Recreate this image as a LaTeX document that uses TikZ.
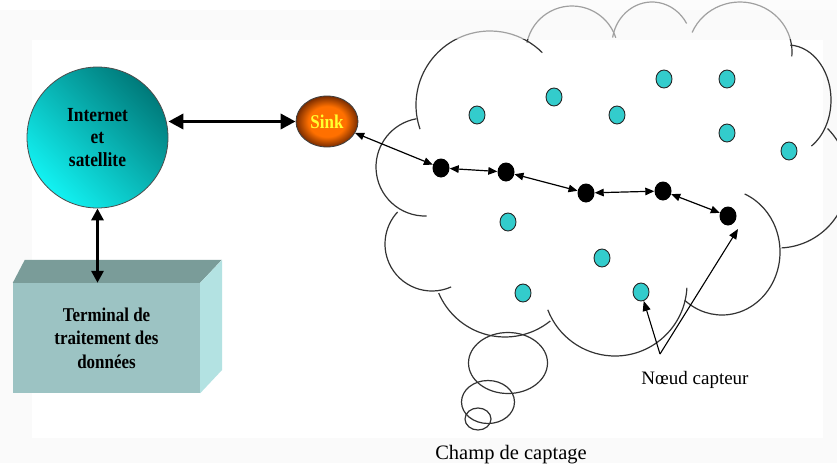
\documentclass[tikz,border=0pt]{standalone}
\usepackage{fontspec}
\setmainfont{Liberation Serif}
\newfontfamily\labelfont[FakeStretch=0.87]{Liberation Serif}
\usetikzlibrary{arrows.meta,shapes.geometric}
\definecolor{netdark}{HTML}{007A7A}
\definecolor{netlight}{HTML}{12F2F2}
\definecolor{sinklight}{HTML}{FF7000}
\definecolor{sinkdark}{HTML}{7A2C00}
\definecolor{sinktext}{HTML}{FFFF30}
\definecolor{nodecyan}{HTML}{33CCCC}
\definecolor{termfront}{HTML}{9CC3C3}
\definecolor{termtop}{HTML}{7A9C99}
\definecolor{termside}{HTML}{B3E2E2}
\pgfdeclareradialshading{sinkglow}{\pgfpoint{0bp}{0bp}}{color(0bp)=(sinklight); color(15bp)=(sinklight); color(25bp)=(sinkdark); color(50bp)=(sinkdark)}
\tikzset{
  netball/.style={circle, draw=black!70, line width=0.8pt, minimum size=141pt, inner sep=0pt,
    top color=netdark, bottom color=netlight, shading angle=-45,
    align=center, font=\labelfont\bfseries\fontsize{20}{22.5}\selectfont},
  sinkball/.style={ellipse, draw=black!75, line width=0.8pt, minimum width=62pt, minimum height=51pt,
    inner sep=0pt, shading=sinkglow, text=sinktext,
    font=\labelfont\bfseries\fontsize{19.5}{20}\selectfont},
  termface/.style={rectangle, fill=termfront, minimum width=187pt, minimum height=110pt, inner sep=0pt,
    align=center, font=\labelfont\bfseries\fontsize{19.5}{23.5}\selectfont},
  sensor/.style={ellipse, fill=nodecyan, draw=black!85, line width=0.9pt,
    minimum width=16pt, minimum height=18pt, inner sep=0pt},
  relay/.style={ellipse, fill=black, minimum width=17pt, minimum height=19pt, inner sep=0pt},
  cloudline/.style={line width=1.2pt, draw=black!80},
  biglink/.style={line width=3.6pt, {Triangle[length=15pt,width=15pt]}-{Triangle[length=15pt,width=15pt]}},
  vlink/.style={line width=3pt, {Triangle[length=12pt,width=12pt]}-{Triangle[length=12pt,width=12pt]}},
  hop/.style={line width=1.2pt, {Triangle[length=9pt,width=7.5pt]}-{Triangle[length=9pt,width=7.5pt]}},
  pointer/.style={line width=1.1pt, -{Triangle[length=10pt,width=8pt]}},
}

\begin{document}
\begin{tikzpicture}[x=1pt, y=-1pt]
\useasboundingbox (0,0) rectangle (837,463);
\clip (0,0) rectangle (837,463);
% page background
\fill[black!2] (0,10) rectangle (837,463);
\fill[white] (32,40) rectangle (823,438);

% cloud made of overlapping lobes
\draw[cloudline] (490,105) ++(161:74) arc[start angle=161, end angle=315, radius=74];
\draw[cloudline] (572,52) ++(192:46) arc[start angle=192, end angle=342, radius=46];
\draw[cloudline] (652,45) ++(190:40 and 43) arc[start angle=190, end angle=330, x radius=40, y radius=43];
\draw[cloudline] (740,52) ++(203:52 and 50) arc[start angle=203, end angle=365, x radius=52, y radius=50];
\draw[cloudline] (788,100) ++(-87:43 and 55) arc[start angle=-87, end angle=57, x radius=43, y radius=55];
\draw[cloudline] (778,178) ++(-45:70) arc[start angle=-45, end angle=87, radius=70];
\draw[cloudline] (722,252) ++(-67:58 and 63) arc[start angle=-67, end angle=130, x radius=58, y radius=63];
\draw[cloudline] (615,284) ++(3:72) arc[start angle=3, end angle=159, radius=72];
\draw[cloudline] (505,265) ++(51:72) arc[start angle=51, end angle=157, radius=72];
\draw[cloudline] (432,244) ++(66:47) arc[start angle=66, end angle=223, radius=47];
\draw[cloudline] (425,167) ++(88:49) arc[start angle=88, end angle=260, radius=49];
% thought bubbles
\draw[cloudline] (508,363) ellipse [x radius=39.5, y radius=30.5];
\draw[cloudline] (488,402) ellipse [x radius=26.5, y radius=21.5];
\draw[cloudline] (478,419) ellipse [x radius=13, y radius=11];
% the top strip fades the cloud
\fill[black!2, opacity=0.55] (380,0) rectangle (837,39);

% base station side
\node[netball] (net) at (97.5,137.5) {Internet\\et\\satellite};
\node[sinkball] (sink) at (327,121.5) {Sink};
\node[termface] (term) at (106.5,338) {Terminal de\\traitement des\\données};
\fill[termtop] (term.north west) -- ++(12,-23) -- ++(197,0) -- (term.north east) -- cycle;
\fill[termside] (term.north east) -- ++(22,-23) -- ++(0,110) -- (term.south east) -- cycle;

\draw[biglink] (sink.west) -- (sink.west -| net.east);
\draw[vlink] (net.south) -- (net.south |- term.north);

% sensor nodes
\node[sensor] (s1) at (477,115) {};
\node[sensor] (s2) at (554,97) {};
\node[sensor] (s3) at (617,115) {};
\node[sensor] (s4) at (664,79) {};
\node[sensor] (s5) at (727,79) {};
\node[sensor] (s6) at (727,133) {};
\node[sensor] (s7) at (789,151) {};
\node[sensor] (s8) at (508,222) {};
\node[sensor] (s9) at (602,258) {};
\node[sensor] (s10) at (523,293) {};
\node[sensor] (s11) at (641,292) {};

% relay path towards the sink
\node[relay] (r1) at (441,168) {};
\node[relay] (r2) at (506,172) {};
\node[relay] (r3) at (586,193) {};
\node[relay] (r4) at (663,191) {};
\node[relay] (r5) at (728,216) {};
\draw[hop] (sink) -- (r1);
\draw[hop] (r1) -- (r2);
\draw[hop] (r2) -- (r3);
\draw[hop] (r3) -- (r4);
\draw[hop] (r4) -- (r5);

% labels
\node[anchor=base, font=\fontsize{19}{22}\selectfont] (lblnode) at (695,384) {Nœud capteur};
\coordinate (lblfoot) at (660,354);
\coordinate (lbltip) at (738,229);
\draw[pointer] (lblfoot) -- (s11);
\draw[pointer] (lblfoot) -- (lbltip);
\node[anchor=base, font=\fontsize{20.5}{24}\selectfont] (lblfield) at (511,459) {Champ de captage};
\end{tikzpicture}
\end{document}
